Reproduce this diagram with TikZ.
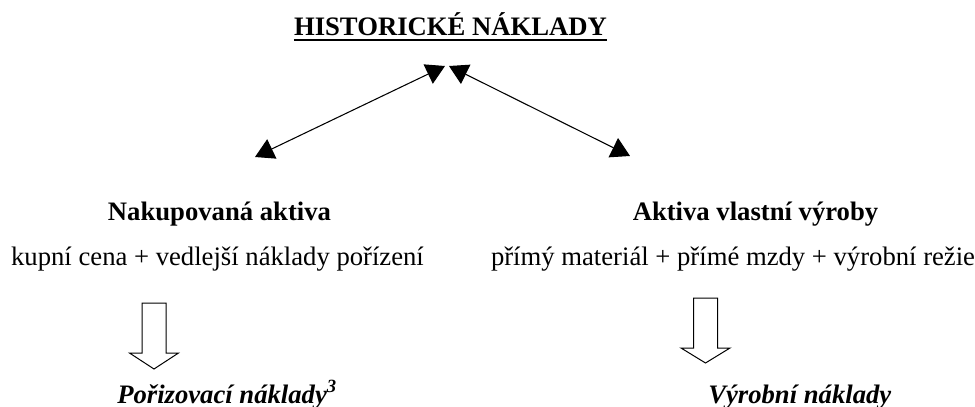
\documentclass[tikz,border=0pt]{standalone}
\usepackage{fontspec}
\setmainfont{Liberation Serif}
\usepackage{tikz}
\usetikzlibrary{arrows.meta,calc}

\begin{document}
\begin{tikzpicture}[x=0.75pt,y=0.75pt,yscale=-1,xscale=1,
  every node/.style={font=\fontsize{20}{24}\selectfont, inner sep=0pt, anchor=base},
  heading/.style={font=\fontsize{20}{24}\selectfont\bfseries},
  result/.style={font=\fontsize{20}{24}\selectfont\bfseries\itshape},
  link/.style={line width=0.8pt, {Triangle[width=16pt,length=14pt]}-{Triangle[width=16pt,length=14pt]}},
  blockarrow/.style={line width=0.75pt, fill=white}]
\useasboundingbox (0,0) rectangle (975,407);

% Text Node
\node[heading] (title) at (450.5,36) {HISTORICKÉ NÁKLADY};
\draw[line width=1.4pt] ($(title.base west)+(0,4)$) -- ($(title.base east)+(0,4)$);

%Arrow ends
\coordinate (topL) at (445,66);
\coordinate (topR) at (449,66);
\coordinate (endL) at (255,157);
\coordinate (endR) at (630,156);

%Straight Lines
\draw[link] (endL) -- (topL);
\draw[link] (topR) -- (endR);

% Text Node
\node[heading] (bought) at (219.5,220) {Nakupovaná aktiva};
\node[heading] (own) at (755.5,220) {Aktiva vlastní výroby};
% Text Node
\node (boughtsum) at (217.5,265) {kupní cena + vedlejší náklady pořízení};
\node (ownsum) at (733,265) {přímý materiál + přímé mzdy + výrobní režie};

%Shape: Down Arrow
\draw[blockarrow] (142,303) -- (166,303) -- (166,353) -- (178.5,353) -- (154,369) -- (129.5,353) -- (142,353) -- cycle ;
%Shape: Down Arrow
\draw[blockarrow] (693.5,298) -- (717.5,298) -- (717.5,348) -- (730,348) -- (705.5,363) -- (681,348) -- (693.5,348) -- cycle ;

% Text Node
\node[result, anchor=base west] (acq) at (117,403) {Pořizovací náklady\textsuperscript{3}};
\node[result, anchor=base west] (prod) at (708,403) {Výrobní náklady};
\end{tikzpicture}
\end{document}
